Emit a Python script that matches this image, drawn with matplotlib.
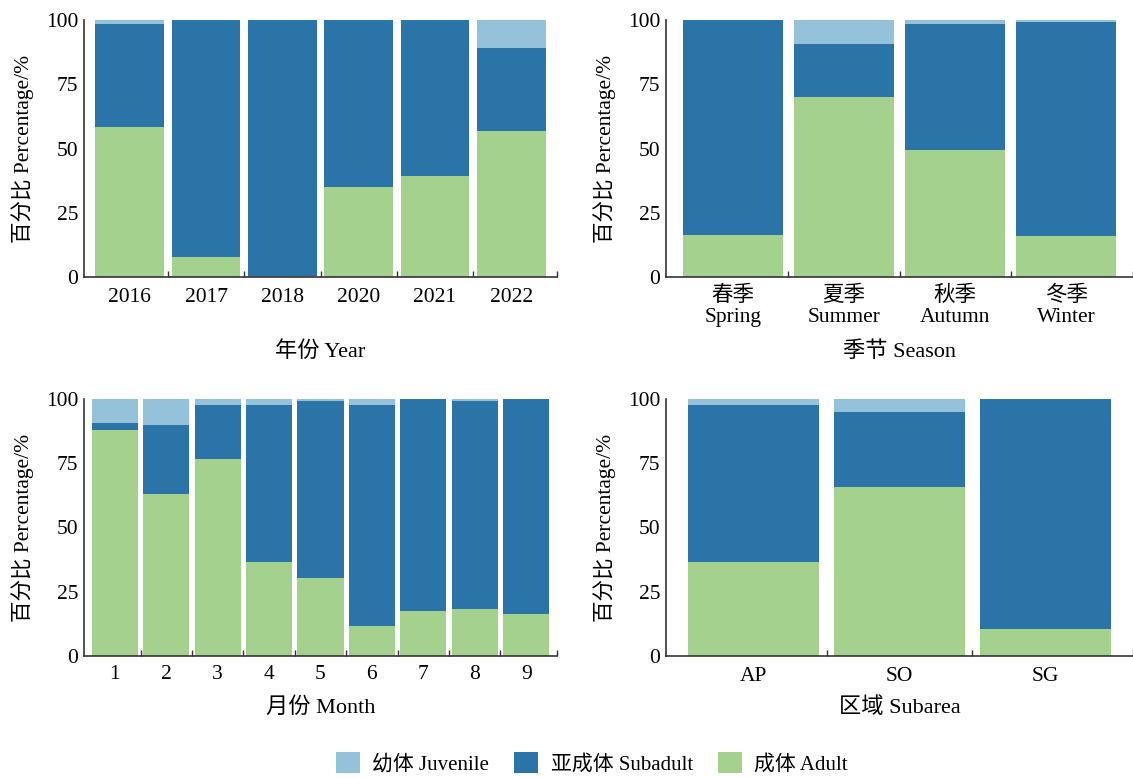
import matplotlib
matplotlib.use("Agg")
import matplotlib.pyplot as plt
from matplotlib.patches import Patch

plt.rcParams['font.family'] = ['Liberation Serif', 'Noto Sans CJK SC', 'DejaVu Sans']

# ---- data ----
years = ["2016", "2017", "2018", "2020", "2021", "2022"]
year_adult = [58.4, 7.6, 0.4, 35.0, 39.4, 56.9]
year_sub = [40.0, 92.4, 99.6, 65.0, 60.6, 32.1]
year_juv = [1.6, 0.0, 0.0, 0.0, 0.0, 11.0]

seasons = ["春季\nSpring", "夏季\nSummer", "秋季\nAutumn", "冬季\nWinter"]
season_adult = [16.3, 70.1, 49.5, 15.8]
season_sub = [83.7, 20.4, 48.8, 83.4]
season_juv = [0.0, 9.5, 1.7, 0.8]

months = ["1", "2", "3", "4", "5", "6", "7", "8", "9"]
month_adult = [88.0, 63.1, 76.8, 36.4, 30.4, 11.5, 17.5, 18.4, 16.3]
month_sub = [2.8, 26.8, 21.0, 61.4, 68.7, 86.3, 82.5, 80.8, 83.7]
month_juv = [9.2, 10.1, 2.2, 2.2, 0.9, 2.2, 0.0, 0.8, 0.0]

areas = ["AP", "SO", "SG"]
area_adult = [36.4, 65.6, 10.6]
area_sub = [61.4, 29.2, 89.4]
area_juv = [2.2, 5.2, 0.0]

series_names = ["幼体 Juvenile", "亚成体 Subadult", "成体 Adult"]
c_juv = "#93c2da"
c_sub = "#2b74a8"
c_adult = "#a4d18d"

W, H = 1133, 778
fig = plt.figure(figsize=(W / 100, H / 100), dpi=100)
fig.patch.set_facecolor("white")


def px_axes(l, r, t, b):
    return fig.add_axes([l / W, 1 - b / H, (r - l) / W, (b - t) / H])


panels = [
    (px_axes(84, 557, 20, 277), years, year_adult, year_sub, year_juv, "年份 Year", -0.25, 8.0),
    (px_axes(666, 1133, 20, 277), seasons, season_adult, season_sub, season_juv, "季节 Season", -0.25, 6.0),
    (px_axes(84, 557, 399, 656), months, month_adult, month_sub, month_juv, "月份 Month", -0.16, 6.5),
    (px_axes(666, 1133, 399, 656), areas, area_adult, area_sub, area_juv, "区域 Subarea", -0.16, 8.0),
]

for ax, cats, adult, sub, juv, xlabel, ly, pad in panels:
    n = len(cats)
    x = list(range(n))
    bottoms2 = [a + s for a, s in zip(adult, sub)]
    ax.bar(x, adult, width=0.9, color=c_adult, linewidth=0)
    ax.bar(x, sub, width=0.9, bottom=adult, color=c_sub, linewidth=0)
    ax.bar(x, juv, width=0.9, bottom=bottoms2, color=c_juv, linewidth=0)
    ax.set_xlim(-0.6, n - 0.4)
    ax.set_ylim(0, 100)
    ax.set_yticks([0, 25, 50, 75, 100])
    ax.set_xticks(x)
    ax.set_xticklabels(cats, fontsize=15.5, linespacing=1.15)
    ax.set_xticks([i + 0.5 for i in range(n - 1)] + [n - 0.4], minor=True)
    ax.tick_params(axis='x', which='major', length=0, pad=pad)
    ax.tick_params(axis='x', which='minor', direction='in', length=4, width=1.0, color="#333333")
    ax.tick_params(axis='y', length=0, pad=4, labelsize=15.5)
    for s in ["top", "right"]:
        ax.spines[s].set_visible(False)
    for s in ["left", "bottom"]:
        ax.spines[s].set_linewidth(1.2)
        ax.spines[s].set_color("#333333")
    ax.set_ylabel("百分比 Percentage/%", fontsize=15.5, labelpad=9)
    ax.set_xlabel(xlabel, fontsize=16)
    ax.xaxis.set_label_coords(0.5, ly)
    ax.xaxis.label.set_va("top")

handles = [Patch(facecolor=c_juv), Patch(facecolor=c_sub), Patch(facecolor=c_adult)]
fig.legend(handles, series_names, loc="center", bbox_to_anchor=(0.5225, 0.019),
           ncol=3, frameon=False, fontsize=15, handlelength=1.15, handleheight=1.15,
           columnspacing=1.2, handletextpad=0.6)

fig.savefig("out.png", dpi=100, facecolor="white")
